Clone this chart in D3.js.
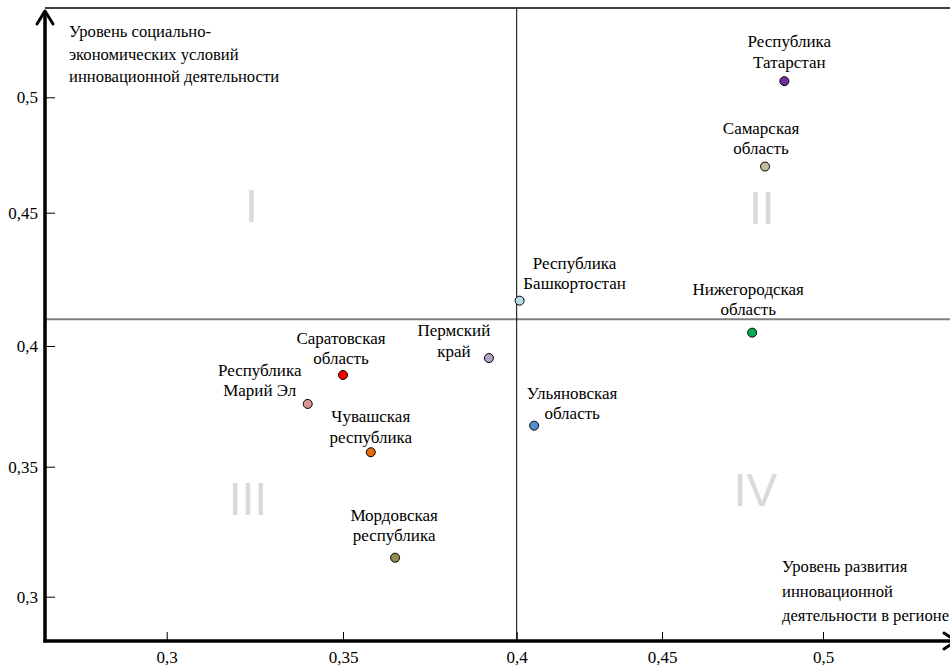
<!DOCTYPE html>
<html><head><meta charset="utf-8">
<script src="https://cdn.jsdelivr.net/npm/d3@7/dist/d3.min.js"></script>
<style>html,body{margin:0;padding:0;background:#fff;overflow:hidden}
svg text{font-family:"Liberation Serif","Times New Roman",Times,serif;}
svg text.q{font-family:"Liberation Sans",Arial,sans-serif;}
</style>
</head><body><svg id="c" width="950" height="672"></svg>
<script>
// ---- data ----
const regions = ["Республика Татарстан","Самарская область","Республика Башкортостан","Нижегородская область","Пермский край","Саратовская область","Республика Марий Эл","Ульяновская область","Чувашская республика","Мордовская республика"];
const labelLines = [["Республика","Татарстан"],["Самарская","область"],["Республика","Башкортостан"],["Нижегородская","область"],["Пермский","край"],["Саратовская","область"],["Республика","Марий Эл"],["Ульяновская","область"],["Чувашская","республика"],["Мордовская","республика"]];
const innovLevel = [0.488,0.482,0.401,0.478,0.392,0.350,0.340,0.406,0.358,0.365];   // x
const socioLevel = [0.507,0.470,0.417,0.405,0.395,0.388,0.376,0.367,0.356,0.315];   // y
const pointColors = ["#7030A0","#C4BD97","#B7DEE8","#00B050","#B3A2C7","#FF0000","#D99694","#558ED5","#E46C0A","#948A54"];
const xTicks = [0.3,0.35,0.4,0.45,0.5];
const xTickLabels = ["0,3","0,35","0,4","0,45","0,5"];
const yTicks = [0.3,0.35,0.4,0.45,0.5];
const yTickLabels = ["0,3","0,35","0,4","0,45","0,5"];
const xSplit = 0.4, ySplit = 0.41;
const quadrants = ["I","II","III","IV"];
const quadrantPos = [[0.324,0.4465],[0.481,0.4458],[0.323,0.3314],[0.479,0.3349]];
const yTitle = ["Уровень социально-","экономических условий","инновационной деятельности"];
const xTitle = ["Уровень развития","инновационной","деятельности в регионе"];
// label layout (offsets from point, px)
const labelDx = [5,-4,55,-4,-35,-2,-48,38,0,-1];
const labelDy = [-34,-33,-32,-38,-22,-31,-28,-27,-30,-37];

// ---- layout ----
const svg = d3.select("#c");
const X0 = 45, Y0 = 641, TOP = 8, RIGHT = 950;
const FS = 17;
const x = d3.scaleLinear().domain(xTicks).range([166.7,343,516.7,662,823]);
const y = d3.scaleLinear().domain(yTicks).range([596.7,466.7,346,212.7,97.3]);

// top border
svg.append("line").attr("x1",X0).attr("x2",RIGHT).attr("y1",TOP).attr("y2",TOP)
  .attr("stroke","#000").attr("stroke-width",1.3);
// quadrant split lines
svg.append("line").attr("x1",X0).attr("x2",RIGHT).attr("y1",y(ySplit)).attr("y2",y(ySplit))
  .attr("stroke","#808080").attr("stroke-width",2);
svg.append("line").attr("x1",x(xSplit)).attr("x2",x(xSplit)).attr("y1",TOP).attr("y2",Y0)
  .attr("stroke","#000").attr("stroke-width",1);

// quadrant numerals
svg.selectAll("text.q").data(quadrants).join("text").attr("class","q")
  .attr("x",(d,i)=>x(quadrantPos[i][0])).attr("y",(d,i)=>y(quadrantPos[i][1]))
  .attr("text-anchor","middle")
  .attr("font-size",46).attr("fill","#D9D9D9").text(d=>d);

// axes
const xAxis = d3.axisBottom(x).tickValues(xTicks).tickSizeInner(-9).tickSizeOuter(0).tickPadding(10)
  .tickFormat((d,i)=>xTickLabels[i]);
const gx = svg.append("g").attr("transform",`translate(0,${Y0})`).call(xAxis);
gx.attr("font-family",null);
gx.select(".domain").remove();
gx.selectAll("line").attr("stroke","#000");
gx.selectAll("text").attr("font-size",FS).attr("fill","#000");

const yAxis = d3.axisLeft(y).tickValues(yTicks).tickSizeInner(-10).tickSizeOuter(0).tickPadding(7)
  .tickFormat((d,i)=>yTickLabels[i]);
const gy = svg.append("g").attr("transform",`translate(${X0},0)`).call(yAxis);
gy.attr("font-family",null);
gy.select(".domain").remove();
gy.selectAll("line").attr("stroke","#000");
gy.selectAll("text").attr("font-size",FS).attr("fill","#000");

// thick axis lines with arrows
svg.append("path").attr("d",`M${X0},${Y0+1.5} L${X0},11`).attr("stroke","#000").attr("stroke-width",3.5).attr("fill","none");
svg.append("path").attr("d",`M${X0-8},24 L${X0},11 L${X0+8},24`).attr("stroke","#000").attr("stroke-width",3).attr("fill","none").attr("stroke-linecap","round").attr("stroke-linejoin","round");
svg.append("path").attr("d",`M${X0-1.5},${Y0} L${RIGHT+6},${Y0}`).attr("stroke","#000").attr("stroke-width",3.5).attr("fill","none");
svg.append("path").attr("d",`M${RIGHT-6},${Y0-8} L${RIGHT+6},${Y0} L${RIGHT-6},${Y0+8}`).attr("stroke","#000").attr("stroke-width",3).attr("fill","none").attr("stroke-linecap","round");

// axis titles
const yt = svg.append("text").attr("font-size",16.6).attr("fill","#000");
yTitle.forEach((t,i)=>yt.append("tspan").attr("x",69).attr("y",37+i*22.5).text(t));
const xt = svg.append("text").attr("font-size",16.6).attr("fill","#000");
xTitle.forEach((t,i)=>xt.append("tspan").attr("x",782).attr("y",572+i*24.5).text(t));

// points
const pts = regions.map((r,i)=>({r,x:innovLevel[i],y:socioLevel[i],c:pointColors[i],lines:labelLines[i],dx:labelDx[i],dy:labelDy[i]}));
svg.selectAll("circle.pt").data(pts).join("circle").attr("class","pt")
  .attr("cx",d=>x(d.x)).attr("cy",d=>y(d.y)).attr("r",4.5)
  .attr("fill",d=>d.c).attr("stroke","#000").attr("stroke-width",1);
const lab = svg.selectAll("text.lab").data(pts).join("text").attr("class","lab")
  .attr("font-size",FS).attr("fill","#000").attr("text-anchor","middle");
lab.each(function(d){
  const t = d3.select(this);
  d.lines.forEach((ln,i)=>t.append("tspan").attr("x",x(d.x)+d.dx).attr("y",y(d.y)+d.dy+i*20.5).text(ln));
});
</script></body></html>
